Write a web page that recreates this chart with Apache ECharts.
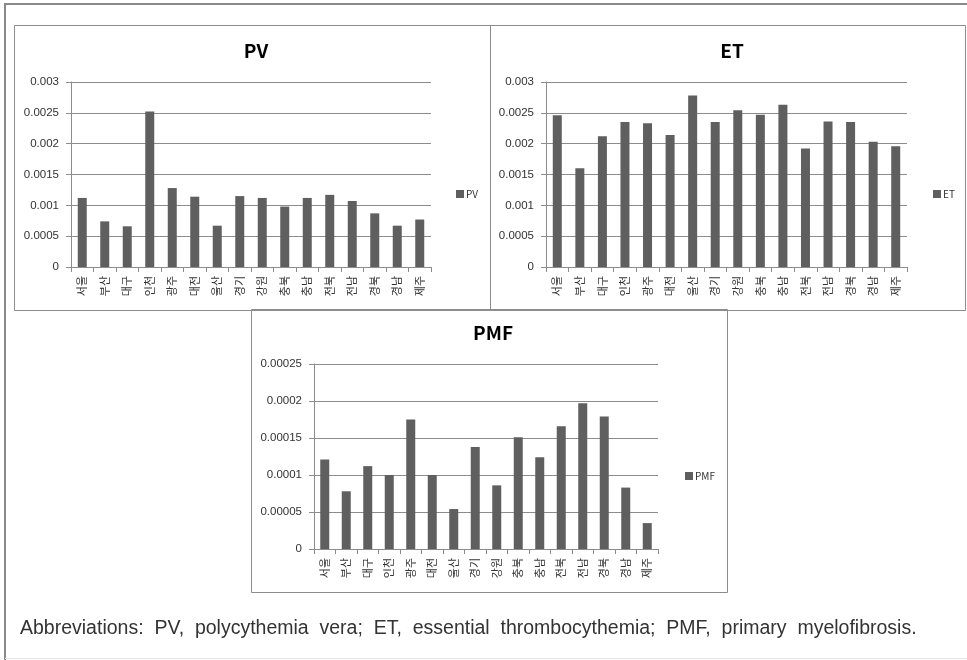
<!DOCTYPE html>
<html>
<head>
<meta charset="utf-8">
<script src="https://cdn.jsdelivr.net/npm/echarts@6/dist/echarts.min.js"></script>
<style>
  html, body { margin: 0; padding: 0; background: #fff; }
  #chart { width: 967px; height: 660px; }
</style>
</head>
<body>
<div id="chart"></div>
<script>
// Regions (시·도), in the order shown on every panel
const regions = ['서울', '부산', '대구', '인천', '광주', '대전', '울산', '경기',
                 '강원', '충북', '충남', '전북', '전남', '경북', '경남', '제주'];

// Prevalence per region
const pvValues = [0.00112, 0.00074, 0.00066, 0.00252, 0.00128, 0.00114, 0.00067, 0.00115,
                  0.00112, 0.00098, 0.00112, 0.00117, 0.00107, 0.00087, 0.00067, 0.00077];
const etValues = [0.00246, 0.00160, 0.00212, 0.00235, 0.00233, 0.00214, 0.00278, 0.00235,
                  0.00254, 0.00247, 0.00263, 0.00192, 0.00236, 0.00235, 0.00203, 0.00196];
const pmfValues = [0.000121, 0.000078, 0.000112, 0.000100, 0.000175, 0.000100, 0.000054, 0.000138,
                   0.000086, 0.000151, 0.000124, 0.000166, 0.000197, 0.000179, 0.000083, 0.000035];

// Value-axis tick labels
const etPvTicks = ['0', '0.0005', '0.001', '0.0015', '0.002', '0.0025', '0.003'];
const pmfTicks = ['0', '0.00005', '0.0001', '0.00015', '0.0002', '0.00025'];

const caption = 'Abbreviations:  PV,  polycythemia  vera;  ET,  essential  thrombocythemia;  PMF,  primary  myelofibrosis.';

const BAR = '#5f5f5f';
const GRID_LINE = '#8c8c8c';
const TXT = '#333';
const FONT = '"Noto Sans CJK KR", "Noto Sans", sans-serif';

const panels = [
  { name: 'PV',  data: pvValues,  ticks: etPvTicks, max: 0.003,   step: 0.0005,
    grid: { left: 71, top: 82, width: 360, height: 185 }, titleX: 251, titleY: 36, legend: [451, 184] },
  { name: 'ET',  data: etValues,  ticks: etPvTicks, max: 0.003,   step: 0.0005,
    grid: { left: 546, top: 82, width: 361, height: 185 }, titleX: 727, titleY: 36, legend: [928, 184] },
  { name: 'PMF', data: pmfValues, ticks: pmfTicks,  max: 0.00025, step: 0.00005,
    grid: { left: 314, top: 364, width: 344, height: 185 }, titleX: 488, titleY: 318, legend: [680, 466] }
];

const option = {
  backgroundColor: '#fff',
  animation: false,
  title: panels.map(p => ({
    text: p.name,
    left: p.titleX,
    top: p.titleY,
    textAlign: 'center',
    textStyle: { fontFamily: FONT, fontSize: 19, fontWeight: 'bold', color: '#000' }
  })),
  legend: panels.map(p => ({
    data: [p.name],
    left: p.legend[0],
    top: p.legend[1],
    itemWidth: 8,
    itemHeight: 8,
    itemGap: 2,
    icon: 'rect',
    textStyle: { fontFamily: FONT, fontSize: 10, color: TXT, padding: [0, 0, 0, -3] }
  })),
  grid: panels.map(p => Object.assign({ containLabel: false }, p.grid)),
  xAxis: panels.map((p, i) => ({
    type: 'category',
    gridIndex: i,
    data: regions,
    boundaryGap: true,
    axisLine: { lineStyle: { color: GRID_LINE, width: 1 } },
    axisTick: { show: true, alignWithLabel: false, length: 5, lineStyle: { color: GRID_LINE } },
    axisLabel: { rotate: 90, interval: 0, margin: 9, fontFamily: FONT, fontSize: 11, color: TXT }
  })),
  yAxis: panels.map((p, i) => ({
    type: 'value',
    gridIndex: i,
    min: 0,
    max: p.max,
    interval: p.step,
    axisLine: { show: true, lineStyle: { color: GRID_LINE } },
    axisTick: { show: true, length: 5, lineStyle: { color: GRID_LINE } },
    splitLine: { show: true, lineStyle: { color: GRID_LINE, width: 1 } },
    axisLabel: {
      margin: 12, fontFamily: '"Liberation Sans", Arial, sans-serif', fontSize: 11.5, color: TXT,
      formatter: (v, idx) => p.ticks[idx]
    }
  })),
  series: panels.map((p, i) => ({
    name: p.name,
    type: 'bar',
    xAxisIndex: i,
    yAxisIndex: i,
    data: p.data,
    barWidth: 9,
    itemStyle: { color: BAR }
  })),
  graphic: [
    // outer frame
    { type: 'line', shape: { x1: 4, y1: 4, x2: 967, y2: 4 }, style: { stroke: '#8a8a8a', lineWidth: 2 }, silent: true },
    { type: 'line', shape: { x1: 5, y1: 3, x2: 5, y2: 660 }, style: { stroke: '#8a8a8a', lineWidth: 2 }, silent: true },
    { type: 'line', shape: { x1: 5, y1: 658.5, x2: 967, y2: 658.5 }, style: { stroke: '#e6e6e6', lineWidth: 1 }, silent: true },
    // chart boxes
    { type: 'rect', shape: { x: 14.5, y: 25.5, width: 476, height: 285 }, style: { fill: null, stroke: '#8c8c8c', lineWidth: 1 }, silent: true },
    { type: 'rect', shape: { x: 490.5, y: 25.5, width: 475, height: 285 }, style: { fill: null, stroke: '#8c8c8c', lineWidth: 1 }, silent: true },
    { type: 'rect', shape: { x: 251.5, y: 309.5, width: 476, height: 283 }, style: { fill: '#fff', stroke: '#8c8c8c', lineWidth: 1 }, silent: true, z: -1 },
    // caption
    { type: 'text', left: 20, top: 619, style: {
        text: caption, fill: '#333',
        font: '19.5px "Liberation Sans", sans-serif'
      }, silent: true }
  ]
};

const chart = echarts.init(document.getElementById('chart'), null, { renderer: 'canvas' });
chart.setOption(option);
</script>
</body>
</html>
